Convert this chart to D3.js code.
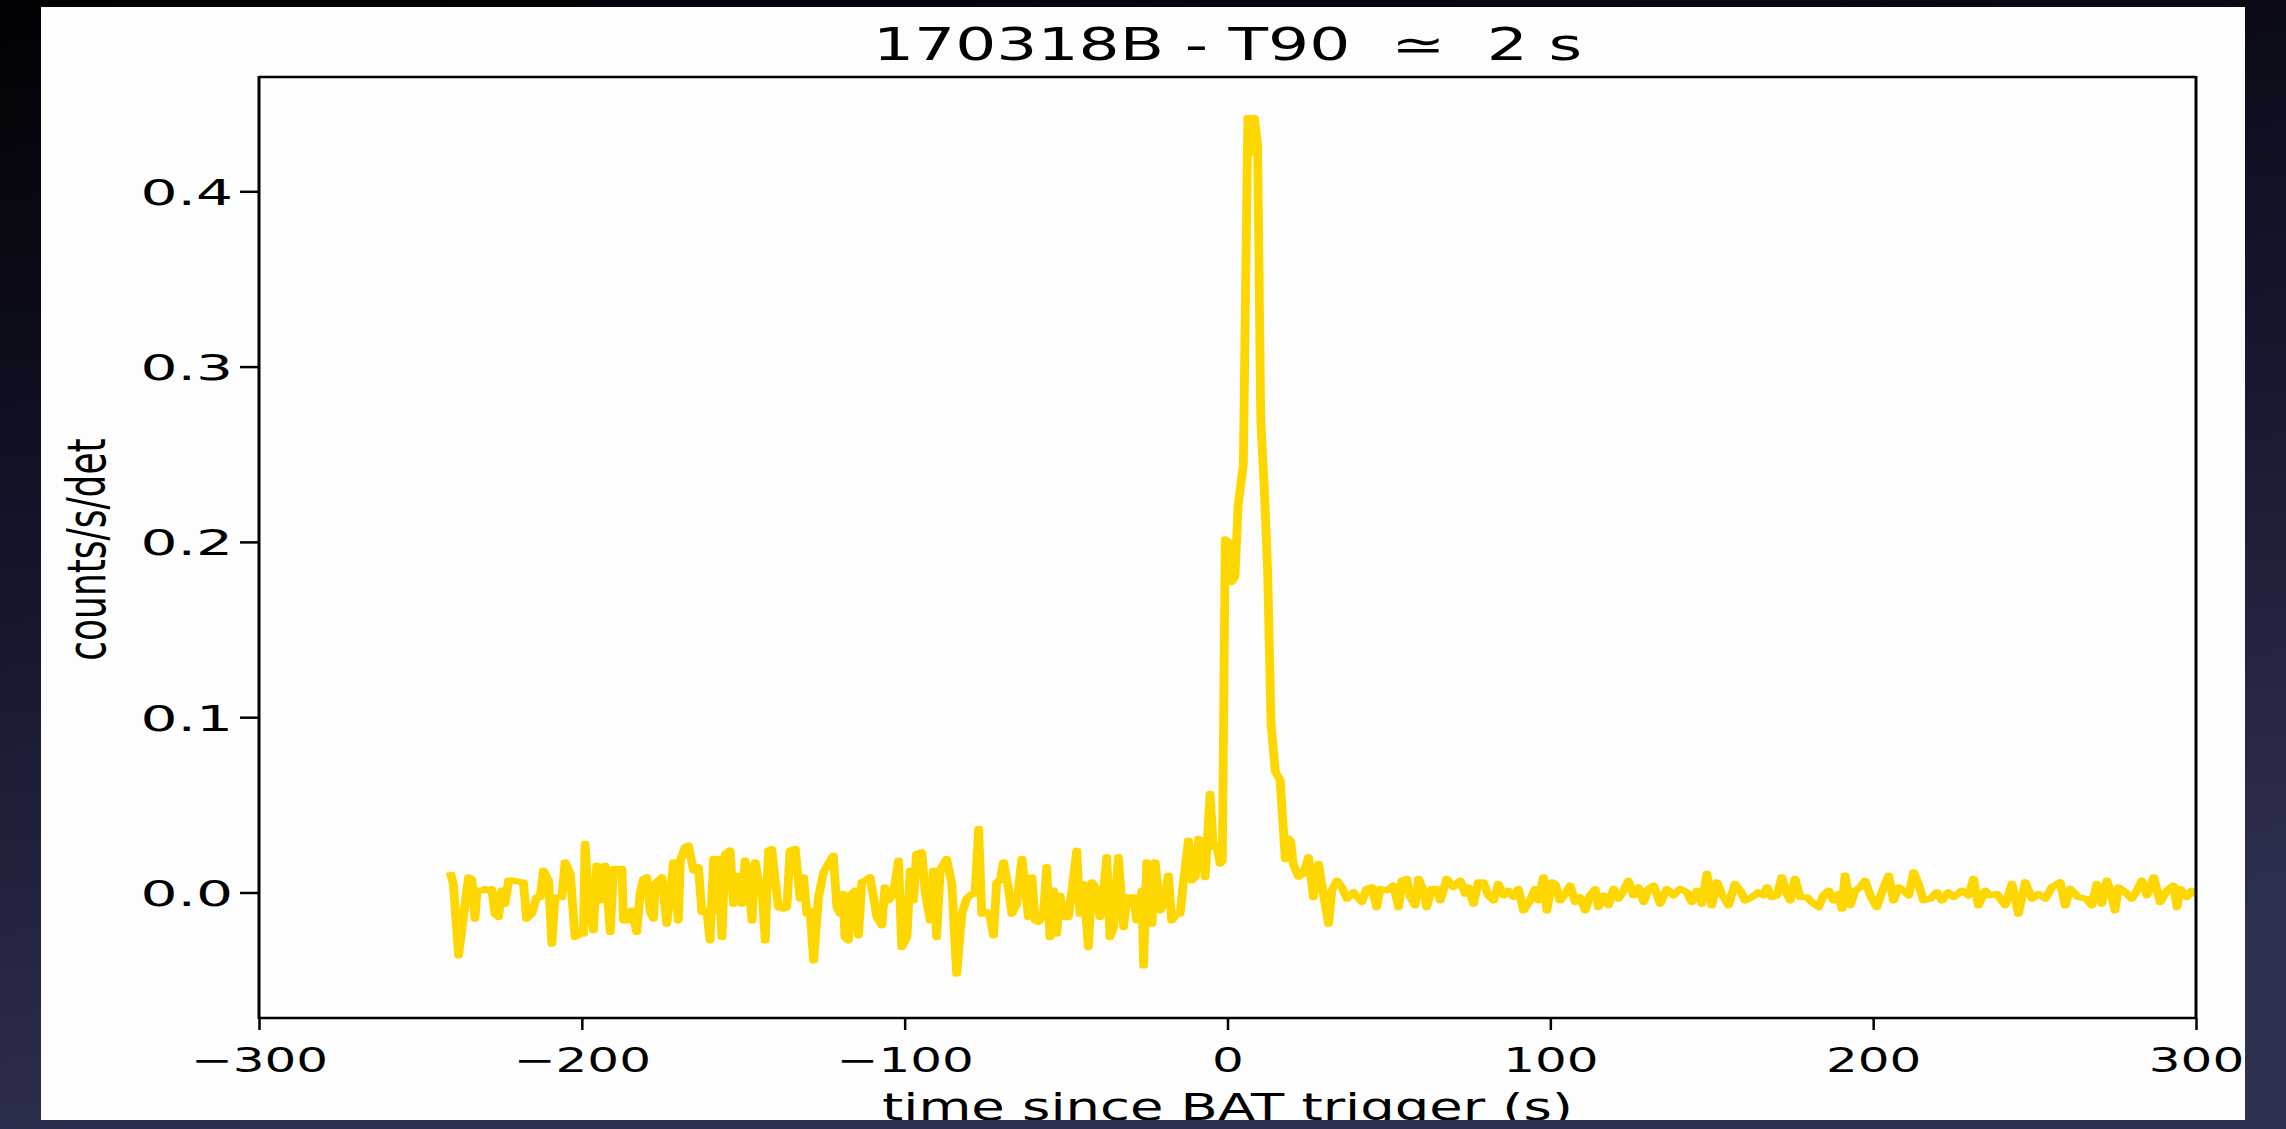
<!DOCTYPE html>
<html>
<head>
<meta charset="utf-8">
<script src="https://cdn.jsdelivr.net/npm/d3@7"></script>
<style>
  html, body { margin: 0; padding: 0; background: #000; }
  svg { display: block; }
  text { font-family: "DejaVu Sans", sans-serif; fill: #000; }
</style>
</head>
<body>
<svg id="chart"></svg>
<script>
// light curve data: [time since trigger (s), counts/s/det]
const lightCurve = [
  [-240.8, 0.0116], [-239.8, 0.0049], [-238.2, -0.0359], [-235.1, 0.0087], [-234.1, 0.0078],
  [-233.1, -0.0150], [-232.5, 0.0011], [-231.0, 0.0011], [-230.0, 0.0021], [-228.9, 0.0011],
  [-227.9, 0.0021], [-226.9, -0.0122], [-225.8, -0.0141], [-224.8, 0.0011], [-223.8, -0.0065],
  [-222.7, 0.0068], [-221.2, 0.0068], [-219.1, 0.0059], [-218.1, 0.0059], [-217.1, -0.0150],
  [-215.5, -0.0122], [-214.0, -0.0027], [-212.9, -0.0027], [-211.9, 0.0126], [-210.3, 0.0068],
  [-209.3, -0.0293], [-208.3, -0.0027], [-206.2, -0.0027], [-205.2, 0.0173], [-203.6, 0.0107],
  [-202.1, -0.0255], [-200.5, -0.0236], [-199.5, -0.0236], [-199.0, 0.0278], [-197.9, -0.0046],
  [-196.4, -0.0217], [-195.4, 0.0154], [-194.3, -0.0046], [-192.8, 0.0154], [-191.2, -0.0226],
  [-190.2, 0.0135], [-189.2, 0.0135], [-187.6, 0.0135], [-187.1, -0.0160], [-185.0, -0.0160],
  [-184.5, -0.0103], [-183.0, -0.0226], [-181.9, 0.0002], [-180.9, 0.0078], [-179.9, 0.0087],
  [-178.8, -0.0112], [-177.8, -0.0150], [-177.3, 0.0049], [-176.3, 0.0068], [-175.2, 0.0087],
  [-173.7, -0.0179], [-172.6, -0.0008], [-171.6, 0.0173], [-170.1, -0.0160], [-169.5, 0.0183],
  [-168.0, 0.0259], [-167.0, 0.0268], [-165.4, 0.0126], [-163.9, 0.0145], [-162.8, -0.0112],
  [-161.3, -0.0103], [-160.3, -0.0274], [-159.2, 0.0192], [-158.2, -0.0103], [-157.7, 0.0192],
  [-156.6, -0.0255], [-155.6, 0.0221], [-154.1, 0.0240], [-153.0, -0.0065], [-152.0, 0.0097],
  [-150.4, -0.0065], [-149.4, 0.0183], [-148.4, 0.0087], [-147.3, -0.0160], [-146.3, 0.0173],
  [-145.3, 0.0068], [-144.3, 0.0049], [-143.2, -0.0274], [-142.2, 0.0240], [-141.2, 0.0249],
  [-140.1, 0.0068], [-139.1, -0.0084], [-137.5, -0.0093], [-136.5, -0.0084], [-135.5, 0.0240],
  [-133.9, 0.0249], [-132.4, -0.0036], [-131.3, 0.0087], [-130.3, -0.0122], [-129.3, -0.0103],
  [-128.2, -0.0388], [-126.7, -0.0027], [-125.1, 0.0116], [-122.1, 0.0211], [-121.0, -0.0084],
  [-120.0, -0.0122], [-119.0, -0.0008], [-118.5, -0.0255], [-117.4, -0.0274], [-116.4, -0.0008],
  [-115.4, 0.0011], [-114.3, -0.0245], [-113.3, 0.0059], [-112.3, 0.0068], [-110.7, 0.0087],
  [-108.6, -0.0141], [-107.1, -0.0188], [-106.1, 0.0030], [-105.0, -0.0046], [-103.5, -0.0008],
  [-101.9, 0.0183], [-100.9, -0.0312], [-99.3, -0.0255], [-98.3, 0.0126], [-97.3, -0.0046],
  [-96.3, 0.0221], [-94.7, 0.0230], [-93.7, 0.0011], [-92.1, -0.0160], [-91.1, 0.0126],
  [-90.1, -0.0255], [-89.0, 0.0126], [-87.0, 0.0192], [-85.4, 0.0049], [-83.9, -0.0464],
  [-82.3, -0.0122], [-80.8, -0.0036], [-79.2, -0.0008], [-78.2, -0.0008], [-77.1, 0.0363],
  [-76.1, -0.0122], [-74.6, -0.0112], [-73.5, -0.0141], [-72.5, -0.0245], [-71.5, 0.0059],
  [-70.4, 0.0068], [-69.4, 0.0173], [-67.9, 0.0030], [-66.8, -0.0122], [-65.3, -0.0065],
  [-63.7, 0.0192], [-62.7, 0.0049], [-61.7, -0.0141], [-60.6, 0.0087], [-59.6, -0.0160],
  [-58.6, -0.0169], [-57.0, -0.0122], [-56.0, 0.0145], [-55.0, -0.0255], [-53.9, 0.0011],
  [-52.9, -0.0236], [-51.9, -0.0017], [-50.8, -0.0141], [-49.3, -0.0141], [-48.2, 0.0011],
  [-46.7, 0.0240], [-45.7, -0.0122], [-44.6, 0.0049], [-43.1, -0.0312], [-42.0, 0.0059],
  [-40.5, 0.0011], [-39.5, -0.0141], [-38.4, 0.0011], [-37.4, 0.0202], [-36.4, -0.0255],
  [-35.3, -0.0198], [-33.8, 0.0202], [-32.2, -0.0198], [-31.2, -0.0027], [-29.1, -0.0027],
  [-28.1, -0.0160], [-26.5, 0.0011], [-26.0, -0.0417], [-25.0, 0.0173], [-23.4, -0.0179],
  [-22.4, 0.0173], [-20.9, -0.0103], [-19.8, -0.0065], [-18.3, 0.0097], [-17.3, -0.0160],
  [-15.7, -0.0122], [-14.7, -0.0122], [-13.6, 0.0068], [-12.1, 0.0297], [-11.1, 0.0068],
  [-10.0, 0.0087], [-9.0, 0.0306], [-8.0, 0.0287], [-6.9, 0.0087], [-5.4, 0.0563],
  [-4.4, 0.0259], [-3.3, 0.0268], [-2.3, 0.0164], [-1.6, 0.0180], [-0.7, 0.2015],
  [0.3, 0.2000], [1.3, 0.1770], [2.3, 0.1800], [3.3, 0.2210], [4.9, 0.2440],
  [6.3, 0.4420], [7.3, 0.4220], [8.3, 0.4420], [9.3, 0.4270], [10.3, 0.2700],
  [11.4, 0.2300], [12.4, 0.1850], [13.5, 0.0960], [14.8, 0.0690], [16.3, 0.0640],
  [17.9, 0.0190], [18.9, 0.0310], [19.6, 0.0290], [20.4, 0.0160], [22.0, 0.0090],
  [23.5, 0.0107], [25.1, 0.0202], [26.6, -0.0027], [28.2, 0.0164], [29.7, -0.0008],
  [31.3, -0.0179], [32.3, 0.0011], [33.9, 0.0068], [35.4, 0.0030], [37.0, -0.0036],
  [39.0, 0.0002], [41.6, -0.0055], [43.1, 0.0021], [44.7, 0.0030], [46.2, -0.0084],
  [47.3, 0.0021], [49.3, 0.0011], [51.4, 0.0040], [53.0, -0.0084], [54.0, 0.0068],
  [55.5, 0.0078], [56.6, -0.0027], [58.1, -0.0074], [59.2, 0.0078], [60.7, 0.0011],
  [61.7, -0.0084], [63.3, 0.0021], [64.8, 0.0021], [65.9, -0.0046], [67.9, 0.0078],
  [70.0, 0.0030], [72.1, 0.0068], [73.6, -0.0008], [74.6, 0.0030], [76.2, -0.0065],
  [77.7, 0.0059], [79.3, 0.0059], [80.8, -0.0017], [82.4, -0.0046], [83.9, 0.0049],
  [85.5, -0.0017], [87.0, 0.0011], [88.6, -0.0027], [90.1, 0.0021], [91.7, -0.0103],
  [93.7, -0.0046], [95.3, 0.0021], [96.3, -0.0046], [97.9, 0.0087], [98.9, -0.0103],
  [100.5, 0.0059], [101.5, 0.0049], [103.0, -0.0046], [104.6, -0.0008], [106.1, 0.0040],
  [107.7, -0.0055], [109.2, -0.0027], [110.8, -0.0103], [112.3, -0.0017], [113.9, 0.0021],
  [114.9, -0.0084], [116.5, -0.0017], [118.0, -0.0074], [119.6, 0.0021], [121.1, -0.0036],
  [122.7, 0.0011], [124.2, 0.0068], [125.8, -0.0017], [127.3, 0.0030], [128.9, -0.0055],
  [130.4, 0.0021], [132.0, 0.0040], [134.0, -0.0065], [136.1, 0.0021], [138.1, -0.0017],
  [140.2, 0.0021], [142.3, 0.0002], [143.8, -0.0055], [145.4, 0.0011], [146.9, -0.0065],
  [148.5, 0.0107], [150.0, -0.0074], [151.6, 0.0059], [153.1, -0.0008], [155.2, -0.0074],
  [157.2, 0.0049], [158.8, 0.0011], [160.3, -0.0046], [162.4, -0.0027], [164.5, 0.0002],
  [166.0, -0.0017], [167.1, 0.0030], [168.6, -0.0027], [170.2, -0.0017], [171.7, 0.0087],
  [173.3, -0.0008], [174.3, -0.0046], [175.8, 0.0078], [177.4, -0.0027], [179.5, -0.0027],
  [181.0, -0.0055], [183.1, -0.0084], [184.6, -0.0017], [186.2, 0.0011], [187.7, -0.0046],
  [189.3, -0.0008], [190.3, -0.0093], [191.3, 0.0097], [192.9, -0.0074], [194.4, 0.0011],
  [196.0, 0.0030], [197.5, 0.0068], [199.1, -0.0017], [201.1, -0.0084], [202.7, 0.0002],
  [204.8, 0.0097], [206.3, -0.0046], [207.9, 0.0030], [209.4, 0.0011], [211.0, -0.0017],
  [212.5, 0.0116], [214.0, 0.0049], [215.6, -0.0046], [217.7, -0.0036], [219.7, 0.0002],
  [221.3, -0.0046], [223.3, 0.0002], [224.9, -0.0027], [227.5, 0.0011], [229.5, -0.0017],
  [231.1, 0.0078], [232.6, -0.0074], [234.7, 0.0011], [236.2, -0.0017], [238.3, -0.0008],
  [240.9, -0.0074], [243.0, 0.0049], [245.0, -0.0122], [247.1, 0.0059], [249.2, -0.0036],
  [251.2, -0.0008], [253.3, -0.0036], [255.3, 0.0030], [257.9, 0.0059], [259.5, -0.0074],
  [261.0, 0.0021], [263.6, -0.0027], [266.2, -0.0036], [267.7, -0.0074], [269.3, 0.0049],
  [270.8, -0.0065], [272.4, 0.0068], [273.9, -0.0017], [274.9, -0.0103], [276.0, 0.0030],
  [278.1, 0.0002], [280.1, -0.0036], [281.7, 0.0011], [283.2, 0.0068], [284.8, -0.0017],
  [286.9, 0.0087], [288.9, -0.0055], [291.0, 0.0011], [293.0, 0.0040], [294.1, -0.0084],
  [295.1, 0.0021], [297.2, -0.0027], [298.7, 0.0011], [300.5, -0.0017]
];

const xTicks = [-300, -200, -100, 0, 100, 200, 300];
const yTicks = [0.0, 0.1, 0.2, 0.3, 0.4];
const xDomain = [-300, 300];
const yDomain = [-0.0716, 0.4652];
const titleText = '170318B - T90  \u2243  2 s';
const xLabelText = 'time since BAT trigger (s)';
const yLabelText = 'counts/s/det';

class LightCurve {
    constructor (config, data) {
        this.config = {
            parent: config.parent,
            width: config.width || 2286,
            height: config.height || 1129,
            margin: config.margin || {top:77, right:90, bottom:111, left:259},
            stretch: config.stretch || 1.47,   // the slide squeezed the figure sideways, so text looks wide
            color: config.color || '#ffd700'
        };
        this.data = data;
        this.init();
    }

    init() {
        let self = this;
        const W = self.config.width, H = self.config.height;

        self.svg = d3.select(self.config.parent)
            .attr('width', W)
            .attr('height', H);

        // dark slide background
        const defs = self.svg.append('defs');
        const grad = defs.append('linearGradient')
            .attr('id', 'bg').attr('x1', 0).attr('y1', 0).attr('x2', 0.25).attr('y2', 1);
        grad.append('stop').attr('offset', 0).attr('stop-color', '#010104');
        grad.append('stop').attr('offset', 0.5).attr('stop-color', '#15162c');
        grad.append('stop').attr('offset', 1).attr('stop-color', '#2e3050');
        self.svg.append('rect').attr('width', W).attr('height', H).attr('fill', 'url(#bg)');

        // white figure panel (cut off at the bottom)
        defs.append('clipPath').attr('id', 'panel')
            .append('rect').attr('x', 41).attr('y', 7).attr('width', 2204).attr('height', 1113);
        self.panel = self.svg.append('g').attr('clip-path', 'url(#panel)');
        self.panel.append('rect')
            .attr('x', 41).attr('y', 7).attr('width', 2204).attr('height', 1113)
            .attr('fill', '#fdfdfd');

        self.inner_width = W - self.config.margin.left - self.config.margin.right;
        self.inner_height = H - self.config.margin.top - self.config.margin.bottom;

        self.chart = self.panel.append('g')
            .attr('transform', `translate(${self.config.margin.left}, ${self.config.margin.top})`);

        self.xscale = d3.scaleLinear().domain(xDomain).range([0, self.inner_width]);
        self.yscale = d3.scaleLinear().domain(yDomain).range([self.inner_height, 0]);
    }

    render() {
        let self = this;
        const s = self.config.stretch;

        // line is drawn in a sideways-stretched group so vertical strokes come out wider, as in the slide
        const lineG = self.chart.append('g').attr('transform', `scale(${s}, 1)`);
        lineG.append('clipPath').attr('id', 'plotclip')
            .append('rect').attr('width', self.inner_width / s).attr('height', self.inner_height);

        const line = d3.line()
            .x(d => self.xscale(d[0]) / s)
            .y(d => self.yscale(d[1]));

        lineG.append('path')
            .datum(self.data)
            .attr('clip-path', 'url(#plotclip)')
            .attr('fill', 'none')
            .attr('stroke', self.config.color)
            .attr('stroke-width', 6)
            .attr('stroke-linejoin', 'round')
            .attr('d', line);

        // axes
        const xaxis = d3.axisBottom(self.xscale)
            .tickValues(xTicks)
            .tickSize(12).tickSizeOuter(0).tickPadding(0)
            .tickFormat(d3.format('d'));
        const yaxis = d3.axisLeft(self.yscale)
            .tickValues(yTicks)
            .tickSize(19).tickSizeOuter(0).tickPadding(0)
            .tickFormat(d3.format('.1f'));

        const xg = self.chart.append('g')
            .attr('transform', `translate(0, ${self.inner_height})`)
            .call(xaxis);
        const yg = self.chart.append('g').call(yaxis);

        [xg, yg].forEach(g => {
            g.select('.domain').remove();
            g.selectAll('.tick line').attr('stroke', '#000').attr('stroke-width', 2.5);
            g.selectAll('.tick text').attr('fill', '#000')
                .attr('font-family', '"DejaVu Sans", sans-serif');
        });
        xg.selectAll('.tick text')
            .attr('font-size', 34)
            .attr('y', 0).attr('dy', 0)
            .attr('transform', `translate(0, 54) scale(${s}, 1)`);
        yg.selectAll('.tick text')
            .attr('font-size', 36)
            .attr('x', 0).attr('dy', '0.36em')
            .attr('transform', `translate(-26, 0) scale(${s * 1.1}, 1)`);

        // frame
        const frame = self.chart.append('g').attr('stroke', '#000').attr('fill', 'none');
        frame.append('line').attr('x1', 0).attr('x2', 0).attr('y1', -1).attr('y2', self.inner_height + 1).attr('stroke-width', 3);
        frame.append('line').attr('x1', self.inner_width).attr('x2', self.inner_width).attr('y1', -1).attr('y2', self.inner_height + 1).attr('stroke-width', 3);
        frame.append('line').attr('x1', 0).attr('x2', self.inner_width).attr('y1', 0).attr('y2', 0).attr('stroke-width', 2.5);
        frame.append('line').attr('x1', 0).attr('x2', self.inner_width).attr('y1', self.inner_height).attr('y2', self.inner_height).attr('stroke-width', 2.5);

        // title and labels
        self.chart.append('text')
            .attr('transform', `translate(${self.inner_width / 2}, -17) scale(${s}, 1)`)
            .attr('text-anchor', 'middle')
            .attr('font-size', 44)
            .style('white-space', 'pre')
            .text(titleText);

        // the slide crops this label at the panel edge, as in the original
        self.chart.append('text')
            .attr('transform', `translate(${self.inner_width / 2}, ${self.inner_height + 102}) scale(${s}, 1)`)
            .attr('text-anchor', 'middle')
            .attr('font-size', 37)
            .text(xLabelText);

        self.chart.append('text')
            .attr('transform', `translate(${86 - self.config.margin.left}, ${self.inner_height / 2 + 2}) scale(${s}, 1) rotate(-90)`)
            .attr('text-anchor', 'middle')
            .attr('dy', '0.36em')
            .attr('font-size', 36)
            .text(yLabelText);
    }
}

const chart = new LightCurve({ parent: '#chart' }, lightCurve);
chart.render();
</script>
</body>
</html>
